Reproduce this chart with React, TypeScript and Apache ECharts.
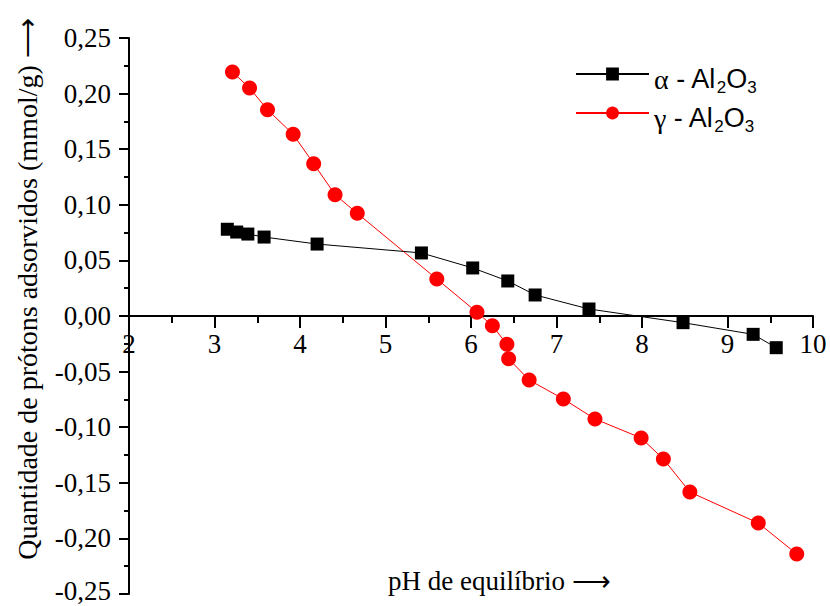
import React, { useEffect, useRef } from "react";
import * as echarts from "echarts";

// Proton adsorption vs. equilibrium pH for two alumina phases
const alphaPH = [3.15, 3.26, 3.39, 3.58, 4.2, 5.42, 6.02, 6.43, 6.75, 7.38, 8.48, 9.3, 9.57];
const alphaQ = [0.078, 0.0755, 0.0737, 0.071, 0.0647, 0.0567, 0.0432, 0.0315, 0.0189, 0.0063, -0.006, -0.0165, -0.0285];

const gammaPH = [3.21, 3.41, 3.62, 3.92, 4.16, 4.41, 4.67, 5.6, 6.07, 6.25, 6.42, 6.44, 6.68, 7.08, 7.45, 7.99, 8.25, 8.56, 9.36, 9.81];
const gammaQ = [0.2194, 0.205, 0.1855, 0.1634, 0.137, 0.1091, 0.0923, 0.0333, 0.0033, -0.0087, -0.0255, -0.0384, -0.0576, -0.0746, -0.0926, -0.1097, -0.1286, -0.1583, -0.1862, -0.214];

const xTicks = { min: 2, max: 10, step: 1 };
const yTicks = { min: -0.25, max: 0.25, step: 0.05 };

const seriesNames = ["alpha", "gamma"];
const legendRich: Record<string, string> = {
  alpha: "{g|\u03b1}{a| - Al}{s|2}{a|O}{s|3}",
  gamma: "{g|\u03b3}{a| - Al}{s|2}{a|O}{s|3}",
};

const yTitle = "Quantidade de pr\u00f3tons adsorvidos (mmol/g) \u27f6";
const xTitle = "pH de equil\u00edbrio \u27f6";

const serif = "'Liberation Serif', 'Times New Roman', serif";
const sans = "'Liberation Sans', Arial, sans-serif";

// plot box in pixels
const gridTop = 38;
const gridBottom = 12;
const chartH = 606;

function pairs(xs: number[], ys: number[]) {
  return xs.map((x, i) => [x, ys[i]]);
}

function decimalComma(v: number) {
  return v.toFixed(2).replace(".", ",");
}

export default function App() {
  const ref = useRef<HTMLDivElement>(null);

  useEffect(() => {
    if (!ref.current) return;
    const chart = echarts.init(ref.current, null, { renderer: "svg" });
    // shift the x axis (line, ticks, labels) up to the y = 0 line
    const plotH = chartH - gridTop - gridBottom;
    const zeroShift = -plotH * (0 - yTicks.min) / (yTicks.max - yTicks.min);
    chart.setOption({
      animation: false,
      backgroundColor: "#ffffff",
      grid: { left: 129, right: 17, top: gridTop, bottom: gridBottom, containLabel: false, outerBoundsMode: "none" },
      xAxis: {
        type: "value",
        position: "bottom",
        offset: zeroShift,
        min: xTicks.min,
        max: xTicks.max,
        interval: xTicks.step,
        axisLine: { onZero: false, lineStyle: { color: "#000", width: 2 } },
        axisTick: { show: true, length: 12, lineStyle: { color: "#000", width: 2 } },
        minorTick: { show: true, splitNumber: 2, length: 7, lineStyle: { color: "#000", width: 2 } },
        splitLine: { show: false },
        axisLabel: { color: "#000", fontFamily: serif, fontSize: 27, margin: 14 },
      },
      yAxis: {
        type: "value",
        min: yTicks.min,
        max: yTicks.max,
        interval: yTicks.step,
        axisLine: { show: true, onZero: false, lineStyle: { color: "#000", width: 2 } },
        axisTick: { show: true, length: 10, lineStyle: { color: "#000", width: 2 } },
        minorTick: { show: true, splitNumber: 2, length: 5, lineStyle: { color: "#000", width: 2 } },
        splitLine: { show: false },
        axisLabel: {
          color: "#000",
          fontFamily: serif,
          fontSize: 27,
          lineHeight: 20,
          margin: 18,
          // the lowest label sits at the bottom edge, lift it a little
          formatter: (v: number) =>
            v <= yTicks.min + 1e-9 ? `{m|${decimalComma(v)}}` : decimalComma(v),
          rich: {
            m: { fontFamily: serif, fontSize: 27, lineHeight: 20, color: "#000", padding: [0, 0, 6, 0] },
          },
        },
      },
      legend: {
        orient: "vertical",
        left: 570,
        top: 54,
        itemWidth: 73,
        itemHeight: 16,
        itemGap: 2,
        data: seriesNames,
        formatter: (name: string) => legendRich[name],
        textStyle: {
          rich: {
            g: { fontFamily: serif, fontSize: 28, color: "#000", lineHeight: 30, padding: [6, 0, 0, 0], verticalAlign: "top" },
            a: { fontFamily: sans, fontSize: 27, color: "#000", lineHeight: 30, padding: [6, 0, 0, 0], verticalAlign: "top" },
            s: { fontFamily: sans, fontSize: 17, color: "#000", lineHeight: 17, padding: [20, 0, 0, 0], verticalAlign: "top" },
          },
        },
      },
      series: [
        {
          name: seriesNames[0],
          type: "line",
          data: pairs(alphaPH, alphaQ),
          symbol: "rect",
          symbolSize: 13,
          color: "#000",
          itemStyle: { color: "#000" },
          lineStyle: { color: "#000", width: 1 },
          z: 3,
        },
        {
          name: seriesNames[1],
          type: "line",
          data: pairs(gammaPH, gammaQ),
          symbol: "circle",
          symbolSize: 15,
          color: "#ff0000",
          itemStyle: { color: "#ff0000" },
          lineStyle: { color: "#ff0000", width: 1 },
          z: 2,
        },
      ],
      graphic: [
        {
          type: "text",
          x: 27,
          y: 289,
          rotation: Math.PI / 2,
          style: {
            text: yTitle,
            font: `28px ${serif}`,
            fill: "#000",
            textAlign: "center",
            textVerticalAlign: "middle",
          },
        },
        {
          type: "text",
          x: 388,
          y: 581,
          style: {
            text: xTitle,
            font: `27px ${serif}`,
            fill: "#000",
            textAlign: "left",
            textVerticalAlign: "middle",
          },
        },
      ],
    });
    return () => chart.dispose();
  }, []);

  return <div ref={ref} style={{ width: 830, height: 606, position: "absolute", left: 0, top: 0 }} />;
}
